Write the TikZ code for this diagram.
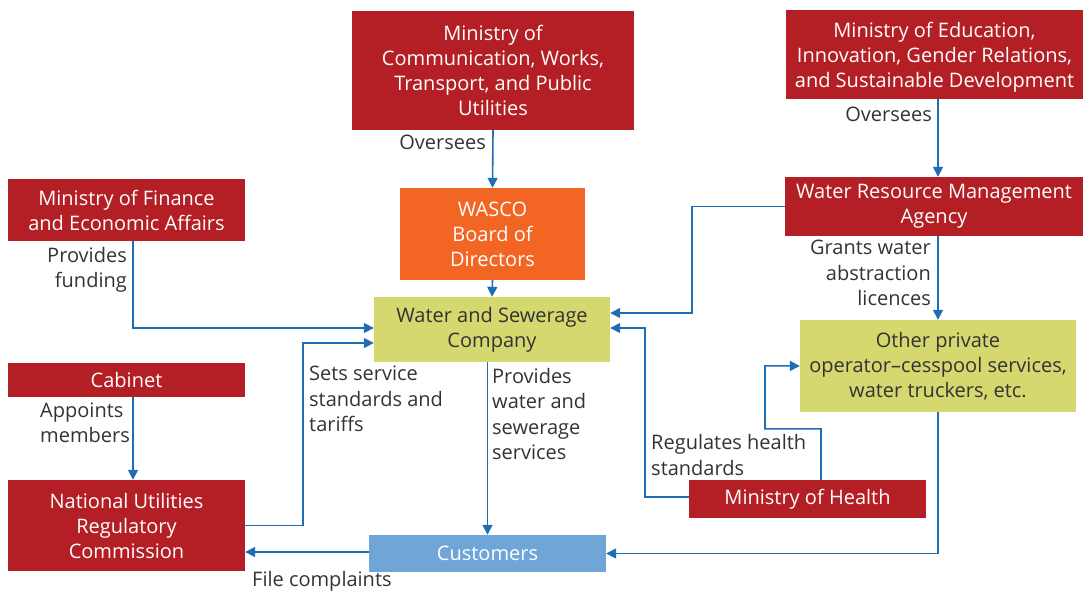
\documentclass[tikz,border=0pt]{standalone}
\usepackage{fontspec}
\setmainfont{Open Sans}
\usetikzlibrary{arrows.meta}
\definecolor{minred}{HTML}{B31F24}
\definecolor{boardorange}{HTML}{F26522}
\definecolor{utilgreen}{HTML}{D4D86E}
\definecolor{custblue}{HTML}{6FA5D7}
\definecolor{linkblue}{HTML}{1F6DB5}
\definecolor{txtgray}{HTML}{333333}
\begin{document}
\begin{tikzpicture}[x=1pt,y=-1pt]
\tikzstyle{box}=[rectangle,inner sep=2pt,align=center,font=\fontsize{20}{25}\selectfont]
\tikzstyle{ministry}=[box,fill=minred,text=white]
\tikzstyle{lbl}=[inner sep=0pt,text=txtgray,font=\fontsize{20}{25.5}\selectfont]
\tikzstyle{arr}=[->,>={Triangle[length=10pt,width=10pt]},linkblue,line width=1.6pt]
\useasboundingbox (0,0) rectangle (1083,591);

% Ministries and agencies
\node[ministry,minimum width=282,minimum height=119] (mcw) at (493,70.5) {Ministry of\\Communication, Works,\\Transport, and Public\\Utilities};
\node[ministry,minimum width=297,minimum height=89,text depth=-2pt] (moe) at (934.5,54.5) {Ministry of Education,\\Innovation, Gender Relations,\\and Sustainable Development};
\node[ministry,minimum width=237,minimum height=62] (mof) at (126.5,210) {Ministry of Finance\\and Economic Affairs};
\node[ministry,minimum width=298,minimum height=59] (wrma) at (934,206.5) {Water Resource Management\\Agency};
\node[ministry,minimum width=237,minimum height=34] (cab) at (126.5,380) {Cabinet};
\node[ministry,minimum width=237,minimum height=91] (nurc) at (126.5,525.5) {National Utilities\\Regulatory\\Commission};
\node[ministry,minimum width=237,minimum height=38] (moh) at (807.5,499) {Ministry of Health};

% Utility and customers
\node[box,fill=boardorange,text=white,minimum width=185,minimum height=92] (wasco) at (492.5,234) {WASCO\\Board of\\Directors};
\node[box,fill=utilgreen,text=txtgray,minimum width=236,minimum height=65] (wsc) at (492,329.5) {Water and Sewerage\\Company};
\node[box,fill=utilgreen,text=txtgray,minimum width=276,minimum height=92] (oth) at (938,366) {Other private\\operator--cesspool services,\\water truckers, etc.};
\node[box,fill=custblue,text=white,minimum width=237,minimum height=37] (cust) at (487.5,553.5) {Customers};

% Connectors
\draw[arr] (mcw.south) -- (wasco.north);
\draw[arr] (wasco.south) -- (wsc.north);
\draw[arr] (moe.south -| oth.north) -- (wrma.north -| oth.north);
\draw[arr] (wrma.south -| oth.north) -- (oth.north);
\draw[arr] ([xshift=6.5pt]mof.south) |- ([yshift=1.5pt]wsc.west);
\draw[arr] ([xshift=6.5pt]cab.south) -- ([xshift=6.5pt]nurc.north);
\draw[arr] (nurc.east) -- ++(58,0) |- ([yshift=-13.5pt]wsc.west);
\draw[arr] (wsc.south -| cust.north) -- (cust.north);
\draw[arr] ([yshift=1.5pt]cust.west) -- ([yshift=1.5pt]cust.west -| nurc.east);
\draw[arr] (wrma.west) -- ++(-93,0) |- ([yshift=16.5pt]wsc.east);
\draw[arr] ([yshift=2pt]moh.west) -- ++(-44,0) |- ([yshift=1.5pt]wsc.east);
\draw[arr] ([xshift=13.5pt]moh.north) -- ++(0,-51) -| ++(-56,-63) -- (oth.west);
\draw[arr] (oth.south) |- (cust.east);

% Connector labels
\node[lbl,anchor=east] (l1) at (486,142) {Oversees};
\node[lbl,anchor=east] (l2) at (932,114) {Oversees};
\node[lbl,anchor=east,align=right] (l3) at (127,270) {Provides\\funding};
\node[lbl,anchor=west,align=left] (l4) at (40,423) {Appoints\\members};
\node[lbl,anchor=west,align=left] (l5) at (309,399) {Sets service\\standards and\\tariffs};
\node[lbl,anchor=west,align=left] (l6) at (492,414) {Provides\\water and\\sewerage\\services};
\node[lbl,anchor=west] (l7) at (252,581) {File complaints};
\node[lbl,anchor=east,align=right] (l8) at (931,273) {Grants water\\abstraction\\licences};
\node[lbl,anchor=west,align=left] (l9) at (651,455) {Regulates health\\standards};
\end{tikzpicture}
\end{document}
